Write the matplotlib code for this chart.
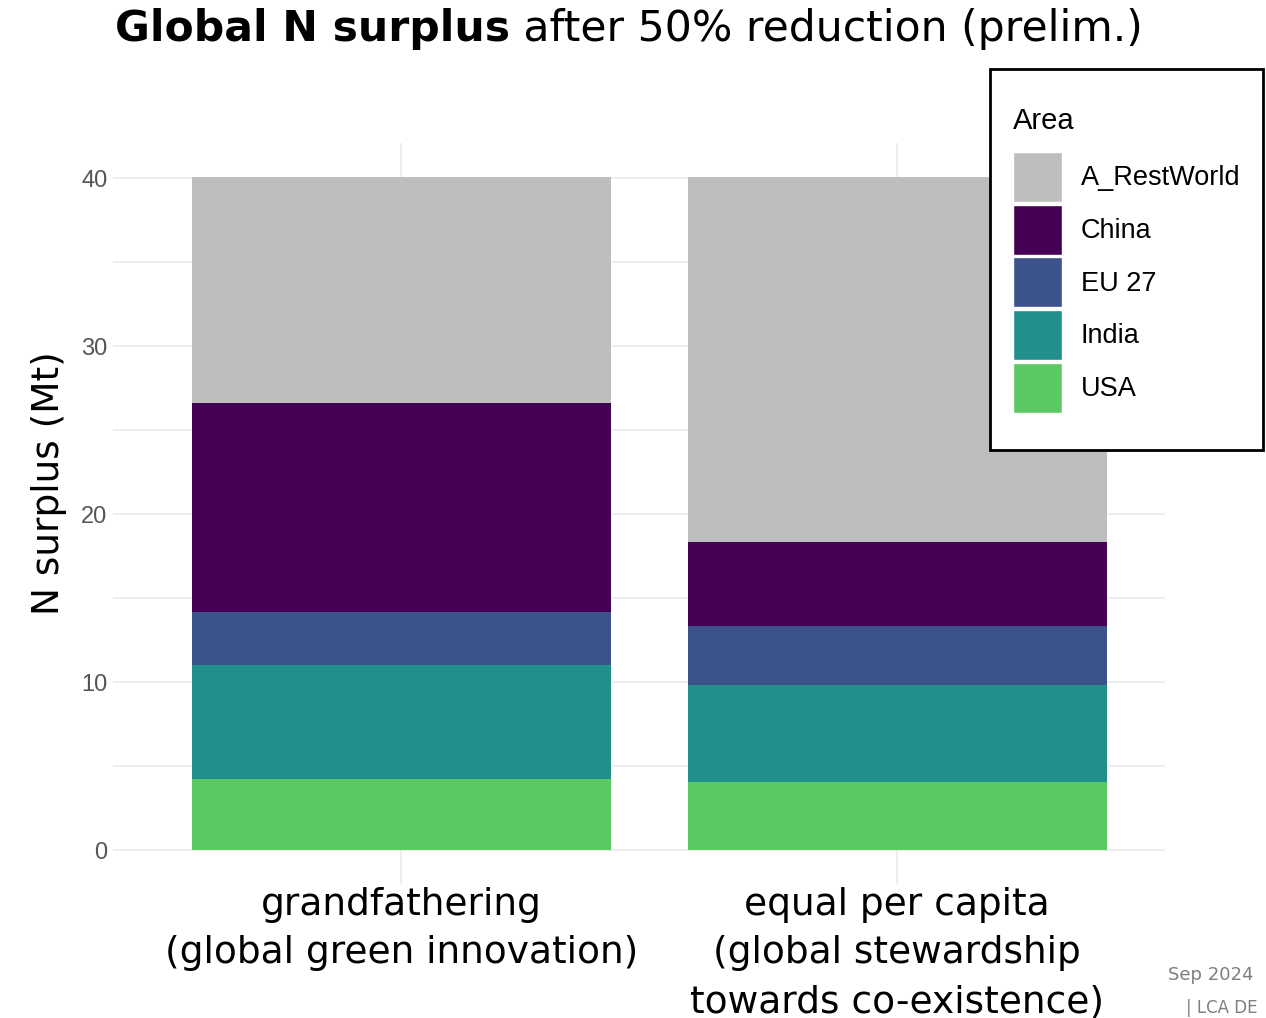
import matplotlib
matplotlib.use("Agg")
import matplotlib.pyplot as plt
from matplotlib.patches import Patch, Rectangle
from matplotlib.transforms import ScaledTranslation
import numpy as np

# Data (Mt N surplus)
scenarios = ["grandfathering\n(global green innovation)",
             "equal per capita\n(global stewardship\ntowards co-existence)"]
areas = ["A_RestWorld", "China", "EU 27", "India", "USA"]
usa = [4.24, 4.07]
india = [6.80, 5.78]
eu27 = [3.16, 3.48]
china = [12.40, 5.02]
rest_world = [13.46, 21.71]
colors = ["#bebebe", "#440154", "#3b528b", "#21908c", "#5cc863"]

W, H = 1266, 1018

def fx(px):
    return px / W

def fy(py):
    return 1 - py / H

def main():
    fig = plt.figure(figsize=(W / 100, H / 100), dpi=100)
    ax = fig.add_axes([0.0893, 0.1316, 0.831, 0.728])

    x = np.arange(1, len(scenarios) + 1)
    stack = [usa, india, eu27, china, rest_world]   # bottom to top
    cols = colors[::-1]
    bottom = np.zeros(len(x))
    for vals, c in zip(stack, cols):
        ax.bar(x, vals, width=0.845, bottom=bottom, color=c, zorder=2)
        bottom += np.array(vals)

    ax.set_xlim(0.419, 2.54)
    ax.set_ylim(-2.0, 42.1)
    ax.set_yticks([0, 10, 20, 30, 40])
    ax.set_yticks([5, 15, 25, 35], minor=True)
    ax.set_xticks(x)
    ax.set_xticklabels(scenarios, fontsize=27, family="DejaVu Sans",
                       linespacing=1.45)
    # second label sits a little higher on the slide
    lab2 = ax.get_xticklabels()[1]
    lab2.set_transform(lab2.get_transform() +
                       ScaledTranslation(0, 0.09, fig.dpi_scale_trans))
    ax.grid(True, which="both", axis="y", color="#ebebeb", lw=1.2, zorder=0)
    ax.grid(True, which="major", axis="x", color="#ebebeb", lw=1.2, zorder=0)
    ax.tick_params(axis="both", which="both", length=0)
    ax.tick_params(axis="y", labelsize=17, labelcolor="#555555", pad=4)
    ax.tick_params(axis="x", pad=2)
    for lab in ax.get_yticklabels():
        lab.set_family("Liberation Sans")
    for s in ax.spines.values():
        s.set_visible(False)
    ax.set_ylabel("N surplus (Mt)", fontsize=27, family="DejaVu Sans")
    ax.yaxis.set_label_coords(-0.044, 0.541)

    # Title: bold part followed by normal part
    fig.canvas.draw()
    r = fig.canvas.get_renderer()
    t1 = fig.text(0, fy(29), "Global N surplus", fontsize=30.6,
                  fontweight="bold", family="DejaVu Sans", va="center")
    t2 = fig.text(0, fy(29), " after 50% reduction (prelim.)", fontsize=30.6,
                  family="DejaVu Sans", va="center")
    w1 = t1.get_window_extent(r).width
    w2 = t2.get_window_extent(r).width
    x0 = (629 - (w1 + w2) / 2) / W
    t1.set_x(x0)
    t2.set_x(x0 + w1 / W)

    # Legend: frame, title and keys
    fig.add_artist(Rectangle((fx(990), fy(450)), fx(1263) - fx(990),
                             fy(69) - fy(450), transform=fig.transFigure,
                             facecolor="white", edgecolor="black", lw=2,
                             zorder=5))
    fig.text(fx(1013), fy(121), "Area", fontsize=21, family="Liberation Sans",
             va="center", ha="left", zorder=6)
    handles = [Patch(facecolor=c, edgecolor="white", lw=1) for c in colors]
    leg = fig.legend(handles, areas, loc="upper left",
                     bbox_to_anchor=(fx(1013), fy(152)),
                     handlelength=1.81, handleheight=2.46, labelspacing=0.1,
                     handletextpad=0.7, borderpad=0, borderaxespad=0,
                     frameon=False,
                     prop={"family": "Liberation Sans", "size": 19.5})
    leg.set_zorder(6)

    fig.text(fx(1253), fy(975), "Sep 2024", fontsize=13,
             color="#7f7f7f", ha="right", va="center", family="DejaVu Sans")
    fig.text(fx(1258), fy(1017), "| LCA DE", fontsize=12,
             color="#7f7f7f", ha="right", va="bottom", family="DejaVu Sans")

    fig.savefig("out.png", dpi=100)

main()
